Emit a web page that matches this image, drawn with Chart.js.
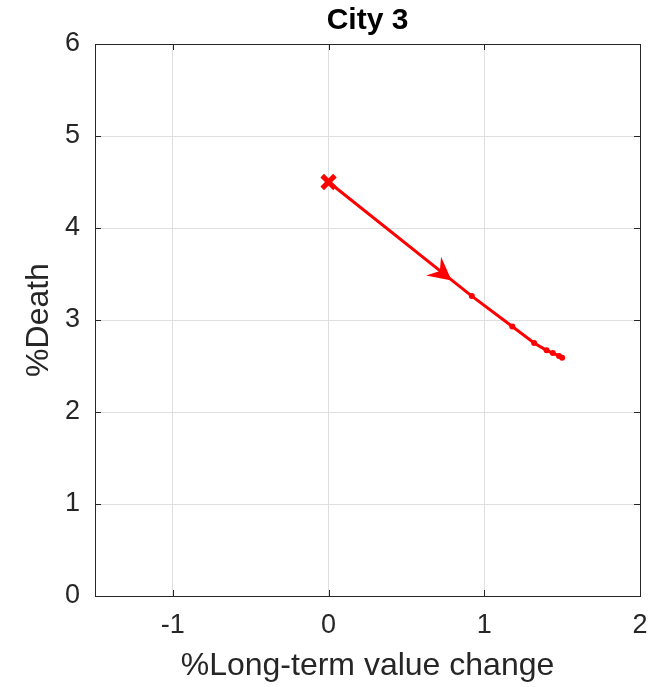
<!DOCTYPE html>
<html>
<head>
<meta charset="utf-8">
<script src="https://cdn.jsdelivr.net/npm/chart.js@4.4.1/dist/chart.umd.min.js"></script>
<style>
  html, body { margin: 0; padding: 0; background: #fff; }
  #wrap { width: 654px; height: 687px; }
</style>
</head>
<body>
<div id="wrap"><canvas id="myChart" width="654" height="687"></canvas></div>
<script>
// values
let chartTitle = "City 3";
let xLabel = "%Long-term value change";
let yLabel = "%Death";
let pathX = [0, 0.92, 1.18, 1.32, 1.40, 1.44, 1.48, 1.50];
let pathY = [4.5, 3.26, 2.93, 2.75, 2.67, 2.64, 2.61, 2.59];
let arrowAt = [0.79, 3.43];   // tip of the direction arrow
let xTicks = [-1, 0, 1, 2];
let yTicks = [0, 1, 2, 3, 4, 5, 6];
let xRange = [-1.5, 2];
let yRange = [0, 6];

let ink = "#262626";
let red = "#ff0000";

let pts = pathX.map((x, i) => ({ x: x, y: pathY[i] }));

// matlab style box + inward ticks + arrow head
let boxPlugin = {
  id: "boxPlugin",
  afterDatasetsDraw(chart) {
    let ctx = chart.ctx;
    let a = chart.chartArea;
    let sx = chart.scales.x, sy = chart.scales.y;
    ctx.save();
    // arrow
    let p0 = { x: sx.getPixelForValue(pathX[0]), y: sy.getPixelForValue(pathY[0]) };
    let p1 = { x: sx.getPixelForValue(pathX[1]), y: sy.getPixelForValue(pathY[1]) };
    let len = Math.hypot(p1.x - p0.x, p1.y - p0.y);
    let dx = (p1.x - p0.x) / len, dy = (p1.y - p0.y) / len;
    let nx = -dy, ny = dx;
    let tx = sx.getPixelForValue(arrowAt[0]), ty = sy.getPixelForValue(arrowAt[1]);
    let L = 23, W = 12, N = 15;
    ctx.fillStyle = red;
    ctx.beginPath();
    ctx.moveTo(tx, ty);
    ctx.lineTo(tx - dx * L + nx * W, ty - dy * L + ny * W);
    ctx.lineTo(tx - dx * N, ty - dy * N);
    ctx.lineTo(tx - dx * L - nx * W, ty - dy * L - ny * W);
    ctx.closePath();
    ctx.fill();
    // box
    ctx.strokeStyle = ink;
    ctx.lineWidth = 1;
    ctx.strokeRect(Math.round(a.left) + 0.5, Math.round(a.top) + 0.5,
      Math.round(a.right - a.left), Math.round(a.bottom - a.top));
    // inward ticks
    ctx.beginPath();
    xTicks.forEach(v => {
      let px = Math.round(sx.getPixelForValue(v)) + 0.5;
      ctx.moveTo(px, a.bottom); ctx.lineTo(px, a.bottom - 6);
      ctx.moveTo(px, a.top); ctx.lineTo(px, a.top + 6);
    });
    yTicks.forEach(v => {
      let py = Math.round(sy.getPixelForValue(v)) + 0.5;
      ctx.moveTo(a.left, py); ctx.lineTo(a.left + 6, py);
      ctx.moveTo(a.right, py); ctx.lineTo(a.right - 6, py);
    });
    ctx.stroke();
    ctx.restore();
  }
};

let chart = new Chart(document.getElementById("myChart"), {
  type: "scatter",
  data: {
    datasets: [
      {
        data: pts,
        showLine: true,
        borderColor: red,
        backgroundColor: red,
        borderWidth: 3,
        pointRadius: 3,
        pointBorderWidth: 0,
        pointHoverRadius: 3
      },
      {
        data: [pts[0]],
        pointStyle: "crossRot",
        pointRadius: 9,
        pointBorderWidth: 5,
        borderColor: red,
        backgroundColor: red
      }
    ]
  },
  options: {
    responsive: false,
    animation: false,
    layout: { padding: { left: 0, right: 13, top: 0, bottom: 0 } },
    plugins: {
      legend: { display: false },
      tooltip: { enabled: false }
    },
    scales: {
      x: {
        type: "linear",
        position: "bottom",
        min: xRange[0], max: xRange[1],
        afterBuildTicks: s => { s.ticks = xTicks.map(v => ({ value: v })); },
        afterFit: s => { s.height = 91; s.paddingLeft = 0; s.paddingRight = 0; },
        ticks: { color: ink, padding: 13, font: { family: "Liberation Sans", size: 27 } },
        grid: { color: "#dfdfdf", drawTicks: false },
        border: { display: false },
        title: {
          display: true, text: xLabel, color: ink,
          font: { family: "Liberation Sans", size: 32 },
          padding: { top: 0, bottom: 2 }
        }
      },
      x2: {
        type: "linear",
        position: "top",
        min: xRange[0], max: xRange[1],
        afterFit: s => { s.height = 44; s.paddingLeft = 0; s.paddingRight = 0; },
        ticks: { display: false },
        grid: { display: false },
        border: { display: false },
        title: {
          display: true, text: chartTitle, color: "#000",
          font: { family: "Liberation Sans", size: 30, weight: "bold" },
          padding: { top: 3, bottom: 0 }
        }
      },
      y: {
        type: "linear",
        position: "left",
        min: yRange[0], max: yRange[1],
        afterBuildTicks: s => { s.ticks = yTicks.map(v => ({ value: v })); },
        afterFit: s => { s.width = 95; s.paddingTop = 0; s.paddingBottom = 0; },
        ticks: { color: ink, padding: 15, font: { family: "Liberation Sans", size: 27 } },
        grid: { color: "#dfdfdf", drawTicks: false },
        border: { display: false },
        title: {
          display: true, text: yLabel, color: ink,
          font: { family: "Liberation Sans", size: 32 },
          padding: { top: 20, bottom: 0 }
        }
      }
    }
  },
  plugins: [boxPlugin]
});
</script>
</body>
</html>
